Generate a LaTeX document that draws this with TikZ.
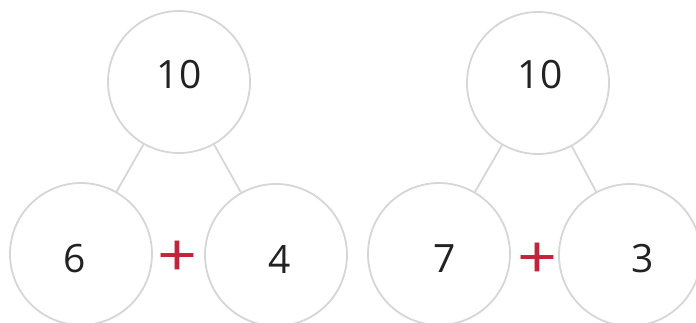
\documentclass[tikz,border=0pt]{standalone}
\usepackage{fontspec}
\setmainfont{Open Sans}
\definecolor{ringgray}{RGB}{214,214,214}
\definecolor{plusred}{RGB}{196,36,58}
\definecolor{numtext}{RGB}{34,34,34}
\begin{document}
\begin{tikzpicture}[x=1pt,y=-1pt,
  ring/.style={circle,draw=ringgray,line width=1.8pt,minimum size=142pt,inner sep=0pt,fill=white},
  num/.style={text=numtext,font=\fontsize{39}{39}\selectfont,inner sep=0pt},
  plussign/.style={text=plusred,font=\fontsize{70}{70}\selectfont,inner sep=0pt,yscale=0.85},
  bond/.style={draw=ringgray,line width=1.8pt}]
\useasboundingbox (0,0) rectangle (696,322);
% left bond
\node[ring] (LT) at (179,82) {};
\node[ring] (LL) at (81,254) {};
\node[ring] (LR) at (276,255) {};
\draw[bond] (LT) -- (LL);
\draw[bond] (LT) -- (LR);
\node[num] (lt) at (179,75) {10};
\node[num] (ll) at (75,259) {6};
\node[num] (lr) at (280,259) {4};
\node[plussign] (lp) at (178,259) {+};
% right bond
\node[ring] (RT) at (538,83) {};
\node[ring] (RL) at (439,254) {};
\node[ring] (RR) at (630,255) {};
\draw[bond] (RT) -- (RL);
\draw[bond] (RT) -- (RR);
\node[num] (rt) at (540,75) {10};
\node[num] (rl) at (445,259) {7};
\node[num] (rr) at (643,259) {3};
\node[plussign] (rp) at (538,261) {+};
\end{tikzpicture}
\end{document}
